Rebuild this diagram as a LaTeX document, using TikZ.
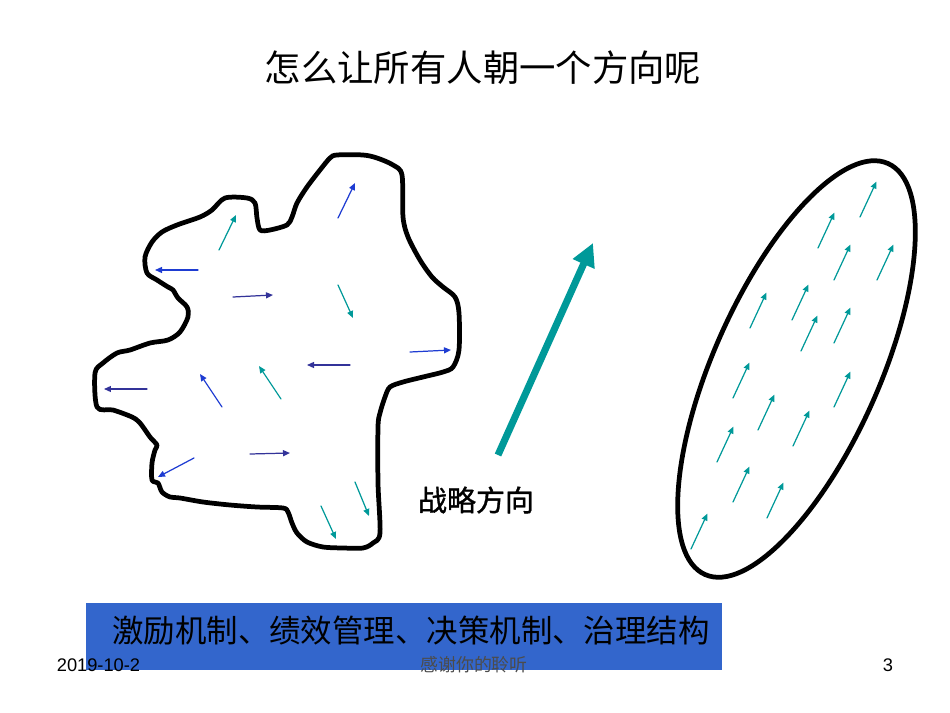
\documentclass[tikz,border=0pt]{standalone}
\usepackage{fontspec}
\setmainfont{Liberation Sans}
\newfontfamily\cjk{Noto Sans CJK SC}
\newfontfamily\cjkheavy[FakeBold=1.2]{Noto Sans CJK SC}
\usetikzlibrary{arrows.meta}
\definecolor{arrteal}{RGB}{0,153,153}
\definecolor{arrblue}{RGB}{30,60,210}
\definecolor{arrindigo}{RGB}{51,51,153}
\definecolor{barblue}{RGB}{51,102,204}

\begin{document}
\begin{tikzpicture}[x=0.02cm, y=-0.02cm, line join=round, line cap=round]
\tikzstyle{small}=[line width=0.7pt, -{Triangle[length=1.4mm,width=1.2mm]}]
\tikzstyle{outline}=[line width=2.7pt]
\useasboundingbox (0,0) rectangle (950,713);

\node (title) at (483,68) {\cjk\fontsize{20.7}{24}\selectfont 怎么让所有人朝一个方向呢};

% scattered crowd
\draw[outline] plot[smooth cycle, tension=0.5] coordinates {
  (337,155) (363,155) (377,158) (393,165) (402,175) (403,217) (408,237)
  (420,260) (432,277) (443,287) (455,297) (459,313) (459,350) (453,367)
  (443,372) (423,377) (403,382) (390,387) (385,397) (380,413) (378,427)
  (378,483) (380,533) (373,543) (363,548) (343,548) (323,547) (307,542)
  (297,533) (292,523) (288,512) (283,508) (257,507) (230,505) (203,502)
  (180,498) (170,497) (162,492) (158,483) (152,480) (152,463) (155,450)
  (157,445) (150,437) (140,423) (132,417) (113,410) (97,407) (95,373)
  (103,363) (117,353) (130,350) (150,343) (168,340) (180,332) (188,317)
  (187,307) (178,298) (173,290) (168,287) (157,280) (147,273) (145,257)
  (152,242) (162,232) (177,225) (200,217) (212,210) (225,198) (247,198)
  (255,203) (257,218) (260,230) (270,230) (287,225) (292,217) (297,203)
  (307,187) (320,170) (330,158)};
\foreach \xa/\ya/\xb/\yb in {338/218/355/183, 198/270/155/270, 410/352/451/350,
    222/407/200/374, 194/458/158/477}
  \draw[small, arrblue] (\xa,\ya) -- (\xb,\yb);
\foreach \xa/\ya/\xb/\yb in {233/297/273/295, 350/365/307/365, 147/389/104/389,
    250/454/290/453}
  \draw[small, arrindigo] (\xa,\ya) -- (\xb,\yb);
\foreach \xa/\ya/\xb/\yb in {219/250/236/215, 338/285/353/318, 281/399/259/366,
    355/482/369/516, 321/506/336/539}
  \draw[small, arrteal] (\xa,\ya) -- (\xb,\yb);

% strategy
\draw[arrteal, line width=4pt, line cap=butt,
  -{Triangle[length=4.6mm,width=4.5mm]}] (498,455) -- (593,243);
\node (strategy) at (476,500) {\cjkheavy\fontsize{16.5}{20}\selectfont 战略方向};

% aligned crowd
\draw[outline, rotate around={66:(796.5,369)}]
  (796.5,369) ellipse [x radius=4.5cm, y radius=1.66cm];
\foreach \xa/\ya in {860/217, 818/248, 834/280, 877/280, 750/328, 792/320,
    801/351, 834/343, 733/398, 758/430, 834/407, 717/462, 793/446, 733/502,
    767/518, 691/549}
  \draw[small, arrteal] (\xa,\ya) -- ++(16.5,-35.5);

% mechanisms
\fill[barblue] (86,603) rectangle (722,670);
\node (mech) at (411,631) {\cjk\fontsize{17.9}{22}\selectfont 激励机制、绩效管理、决策机制、治理结构};

\node[font=\fontsize{10.4}{12}\selectfont] (date) at (98.5,665) {2019-10-2};
\node[text=black!70] (thanks) at (474,665) {\cjk\fontsize{10.2}{12}\selectfont 感谢你的聆听};
\node[font=\fontsize{10.4}{12}\selectfont] (page) at (888,665) {3};
\end{tikzpicture}
\end{document}
